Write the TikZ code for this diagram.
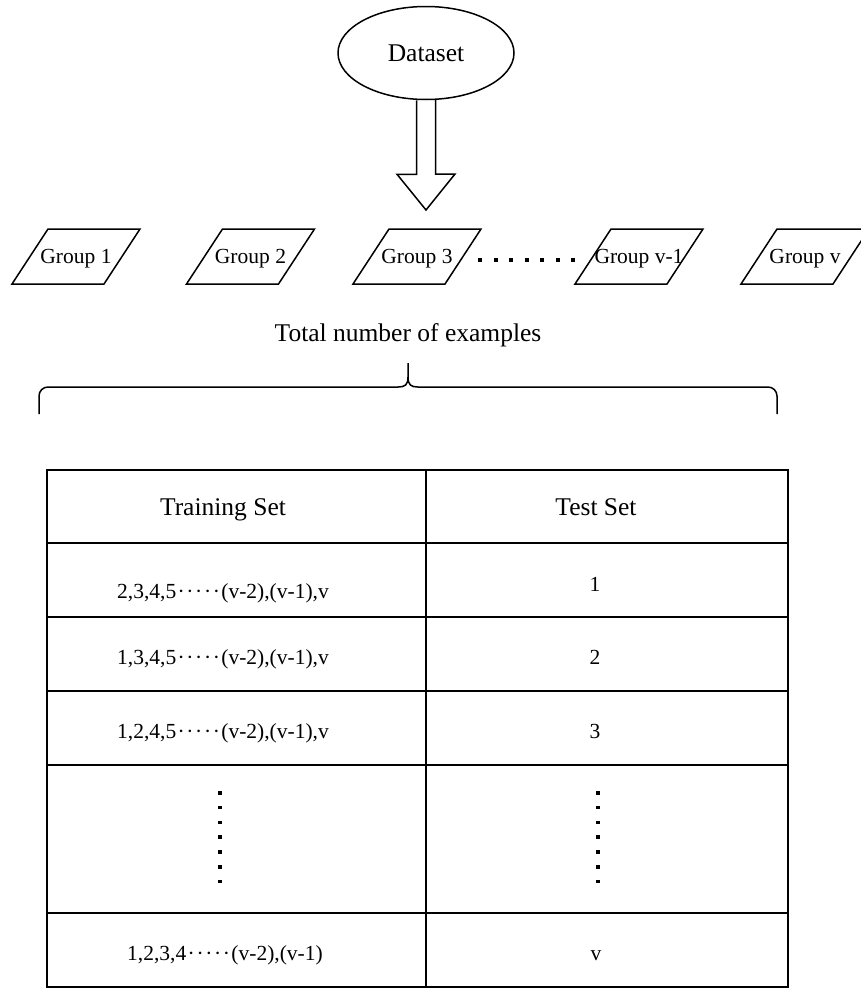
\documentclass[tikz,border=0pt]{standalone}
\usepackage{fontspec}
\setmainfont{Liberation Serif}
\usetikzlibrary{shapes.geometric, positioning, calc}
\tikzset{
bigtxt/.style={font=\fontsize{25.5}{30}\selectfont},
smalltxt/.style={font=\fontsize{21.5}{26}\selectfont},
dataset/.style={ellipse, draw, line width=1.5pt, minimum width=176pt, minimum height=93pt, inner sep=0pt, bigtxt},
group/.style={rectangle, minimum width=92pt, minimum height=55pt, inner sep=0pt, outer sep=0pt, text depth=0pt, smalltxt},
para/.style={line width=1.5pt},
brace/.style={line width=1.5pt},
tbl/.style={line width=2.4pt},
cell/.style={anchor=base, smalltxt},
dotrow/.style={line width=4pt, dash pattern=on 4pt off 11.5pt},
vdots/.style={line width=3.5pt, dash pattern=on 3.5pt off 11.3pt}
}
\newcommand{\middots}{\hbox to 2.1em{\xleaders\hbox to .35em{\hss·\hss}\hfill}}

\begin{document}
\begin{tikzpicture}[x=1pt,y=-1pt]
\useasboundingbox (0,0) rectangle (861,988);

\node[dataset] (ds) at (426,53) {Dataset};
\coordinate (tip) at (426,210);
\draw[para] ($(ds.south)+(-9.5,0)$) -- ++(0,74) -- ++(-19.5,0) -- (tip)
  -- ++(29,-36) -- ++(-19.5,0) -- ++(0,-74);

\node[group] (g1) at (76,256.5) {Group 1};
\node[group, right=82.5pt of g1] (g2) {Group 2};
\node[group, right=74.5pt of g2] (g3) {Group 3};
\node[group, right=130pt of g3] (gv1) {Group v-1};
\node[group, right=74pt of gv1] (gv) {Group v};
\foreach \g in {g1,g2,g3,gv1,gv}
  \draw[para] ($(\g.north west)+(18,0)$) -- ($(\g.north east)+(18,0)$)
    -- ($(\g.south east)+(-18,0)$) -- ($(\g.south west)+(-18,0)$) -- cycle;
\draw[dotrow] ($(g3.east)+(15,3.5)$) -- ($(gv1.west)+(-18,3.5)$);

\node[bigtxt, anchor=base] (total) at (408,341) {Total number of examples};
\coordinate (brl) at (39,414);
\coordinate (brr) at (777,414);
\coordinate (brt) at (408,363);
\draw[brace, rounded corners=9pt] (brl) |- (398,387);
\draw[brace] (398,387) .. controls (405,387) and (408,385) .. (408,377) -- (brt);
\draw[brace, rounded corners=9pt] (brr) |- (418,387);
\draw[brace] (418,387) .. controls (411,387) and (408,385) .. (408,377);

% table
\draw[tbl] (47,470) rectangle (788,987);
\draw[tbl] (426,470) -- (426,987)
  (47,543) -- (788,543) (47,617) -- (788,617) (47,691) -- (788,691)
  (47,765) -- (788,765) (47,913) -- (788,913);

\node[cell, bigtxt] (trhead) at (223,515) {Training Set};
\node[cell, bigtxt] (tehead) at (596,515) {Test Set};
\node[cell] (tr1) at (223,598) {2,3,4,5\middots(v-2),(v-1),v};
\node[cell] (te1) at (595,591) {1};
\node[cell] (tr2) at (223,664) {1,3,4,5\middots(v-2),(v-1),v};
\node[cell] (te2) at (595,664) {2};
\node[cell] (tr3) at (223,738) {1,2,4,5\middots(v-2),(v-1),v};
\node[cell] (te3) at (595,738) {3};
\draw[vdots] (220,791) -- (220,884);
\draw[vdots] (598,791) -- (598,884);
\node[cell] (trv) at (225,960) {1,2,3,4\middots(v-2),(v-1)};
\node[cell] (tev) at (596,960) {v};
\end{tikzpicture}
\end{document}
